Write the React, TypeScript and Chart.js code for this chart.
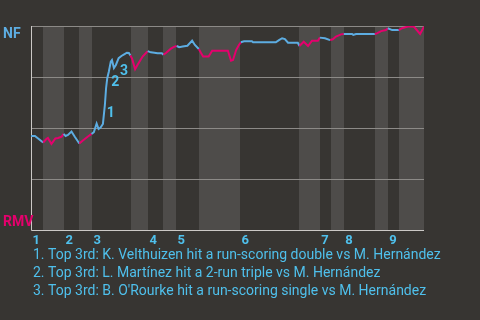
import React, { useEffect, useRef } from "react";
import { Chart, registerables } from "chart.js";

Chart.register(...registerables);

// Game progress (0–100) and NF win probability (%) after each play
const progress = [
  0, 1.0, 3.1, 3.9, 4.3, 5.2, 6.2, 6.9, 7.8, 8.3, 8.8, 9.4, 10.3, 11.1, 12.3, 13.2, 14.5, 15.4, 16.0, 16.7,
  17.2, 17.7, 18.3, 18.8, 19.1, 19.4, 19.8, 20.3, 20.6, 21.1, 21.6, 22.3, 23.0, 23.7, 24.4, 24.9, 25.3, 25.7,
  26.5, 27.2, 28.4, 29.7, 30.5, 31.4, 32.2, 33.3, 33.7, 34.4, 35.6, 36.5, 37.1, 37.7, 38.6, 39.4, 39.8, 41.0,
  41.7, 42.7, 43.3, 43.8, 45.2, 46.1, 50.1, 50.9, 51.4, 52.2, 52.9, 53.4, 54.2, 56.2, 56.5, 62.3, 63.1, 63.9,
  64.6, 65.4, 67.9, 68.3, 69.4, 70.5, 71.5, 73.0, 73.5, 74.8, 76.1, 76.8, 77.6, 78.9, 79.6, 81.7, 82.0, 82.7,
  87.5, 88.0, 89.1, 90.3, 90.8, 91.9, 93.6, 94.4, 95.9, 97.4, 98.0, 99.0, 100,
];
const winProb = [
  46.1, 46.1, 42.9, 44.6, 45.1, 42.2, 44.9, 45.1, 45.8, 47.1, 46.1, 46.6, 48.3, 45.8, 42.4, 43.9, 45.8, 47.1, 48.0, 52.2,
  49.5, 50.2, 52.0, 61.3, 69.5, 74.4, 77.6, 82.5, 83.3, 79.4, 80.9, 84.2, 85.3, 86.1, 86.9, 86.8, 85.5, 84.1,
  78.8, 81.2, 85.0, 87.7, 87.1, 86.9, 86.6, 86.6, 85.9, 86.9, 88.9, 89.9, 90.2, 89.6, 89.9, 90.2, 90.3, 92.8,
  90.7, 88.7, 86.6, 85.0, 85.0, 87.9, 87.9, 83.0, 83.3, 88.2, 90.7, 92.0, 92.5, 92.5, 92.0, 92.0, 93.1, 94.0,
  93.6, 91.8, 91.8, 90.2, 92.3, 90.2, 92.8, 92.8, 94.3, 94.0, 93.1, 93.5, 94.8, 95.9, 96.1, 96.1, 95.6, 96.1,
  96.1, 96.4, 97.5, 98.0, 98.9, 98.0, 98.0, 98.9, 99.7, 99.7, 98.4, 96.1, 99.7,
];

// Half-inning boundaries on the progress scale
const inningStarts = [0, 8.4, 15.5, 29.8, 36.9, 53.2, 73.5, 79.6, 90.8];
const bottomStarts = [3.05, 12.2, 25.4, 33.6, 42.7, 68.2, 76.3, 87.5, 93.6];
const inningLabels = ["1", "2", "3", "4", "5", "6", "7", "8", "9"];
const gameEnd = 100;

// Key plays marked on the line
const keyPlayAt = [18.8, 19.4, 21.1];
const keyPlayNotes = [
  "1. Top 3rd: K. Velthuizen hit a run-scoring double vs M. Hernández",
  "2. Top 3rd: L. Martínez hit a 2-run triple vs M. Hernández",
  "3. Top 3rd: B. O'Rourke hit a run-scoring single vs M. Hernández",
];
const keyPlayLabelShift = [
  [6, 9],
  [8, 4],
  [10, 3],
];

const teamTop = "NF";
const teamBottom = "RMV";

const BG = "#373532";
const BAND = "#4e4c4a";
const GRID = "#8c8a87";
const AXIS = "#cbc9c6";
const BLUE = "#5dade2";
const PINK = "#e5006d";
const TEXT_BLUE = "#4fc0ec";
const FONT = "Roboto, 'Noto Sans', sans-serif";

const inBottomHalf = (x: number) =>
  bottomStarts.some((b, i) => {
    const end = i + 1 < inningStarts.length ? inningStarts[i + 1] : gameEnd;
    return x >= b && x <= end;
  });

const decorPlugin = {
  id: "decor",
  beforeDatasetsDraw(chart: any) {
    const { ctx, chartArea: a, scales } = chart;
    const xs = scales.x;
    const ys = scales.y;
    ctx.save();
    // bottom-half shading
    ctx.fillStyle = BAND;
    bottomStarts.forEach((b, i) => {
      const end = i + 1 < inningStarts.length ? inningStarts[i + 1] : gameEnd;
      const x0 = Math.round(xs.getPixelForValue(b));
      const x1 = Math.round(xs.getPixelForValue(end));
      ctx.fillRect(x0, a.top, x1 - x0, a.bottom - a.top);
    });
    // horizontal grid
    ctx.strokeStyle = GRID;
    ctx.lineWidth = 1;
    [25, 50, 75, 100].forEach((v) => {
      const y = Math.round(ys.getPixelForValue(v)) + 0.5;
      ctx.beginPath();
      ctx.moveTo(a.left, y);
      ctx.lineTo(a.right, y);
      ctx.stroke();
    });
    // axes
    ctx.strokeStyle = AXIS;
    const yb = Math.round(ys.getPixelForValue(0)) + 0.5;
    const xl = Math.round(xs.getPixelForValue(0)) + 0.5;
    ctx.beginPath();
    ctx.moveTo(xl, Math.round(ys.getPixelForValue(100)));
    ctx.lineTo(xl, yb);
    ctx.lineTo(a.right, yb);
    ctx.stroke();
    ctx.restore();
  },
  afterDatasetsDraw(chart: any) {
    const { ctx, chartArea: a, scales } = chart;
    const xs = scales.x;
    const ys = scales.y;
    ctx.save();
    // key play numbers
    ctx.fillStyle = TEXT_BLUE;
    ctx.font = `bold 14px ${FONT}`;
    ctx.textAlign = "center";
    ctx.textBaseline = "middle";
    keyPlayAt.forEach((px, i) => {
      const idx = progress.indexOf(px);
      const x = xs.getPixelForValue(px) + keyPlayLabelShift[i][0];
      const y = ys.getPixelForValue(winProb[idx]) + keyPlayLabelShift[i][1];
      ctx.fillText(String(i + 1), x, y);
    });
    // inning numbers
    ctx.font = `bold 13px ${FONT}`;
    ctx.textAlign = "left";
    ctx.textBaseline = "alphabetic";
    inningStarts.forEach((s, i) => {
      ctx.fillText(inningLabels[i], xs.getPixelForValue(s) + 1.5, a.bottom + 14);
    });
    // team labels
    ctx.font = `bold 14px ${FONT}`;
    ctx.fillStyle = BLUE;
    ctx.fillText(teamTop, 3, ys.getPixelForValue(100) + 12);
    ctx.fillStyle = PINK;
    ctx.fillText(teamBottom, 3, ys.getPixelForValue(0) - 4);
    // notes
    ctx.fillStyle = TEXT_BLUE;
    ctx.font = `14px ${FONT}`;
    keyPlayNotes.forEach((t, i) => {
      ctx.fillText(t, a.left + 2, a.bottom + 29 + i * 18);
    });
    ctx.restore();
  },
};

export default function App() {
  const ref = useRef<HTMLCanvasElement | null>(null);

  useEffect(() => {
    if (!ref.current) return;
    const chart = new Chart(ref.current, {
      type: "line",
      data: {
        datasets: [
          {
            data: progress.map((x, i) => ({ x, y: winProb[i] })),
            borderWidth: 2,
            borderColor: BLUE,
            pointRadius: 0,
            tension: 0,
            segment: {
              borderColor: (c: any) =>
                inBottomHalf((c.p0.parsed.x + c.p1.parsed.x) / 2) ? PINK : BLUE,
            },
          },
        ],
      },
      options: {
        animation: false,
        responsive: false,
        devicePixelRatio: 1,
        layout: { padding: { left: 31, right: 56, top: 26, bottom: 90 } },
        plugins: { legend: { display: false }, tooltip: { enabled: false } },
        scales: {
          x: { type: "linear", min: 0, max: gameEnd, display: false },
          y: { type: "linear", min: 0, max: 100, display: false },
        },
      },
      plugins: [decorPlugin],
    });
    return () => chart.destroy();
  }, []);

  return (
    <div style={{ position: "absolute", left: 0, top: 0, width: 480, height: 320, background: BG }}>
      <canvas ref={ref} width={480} height={320} />
    </div>
  );
}
